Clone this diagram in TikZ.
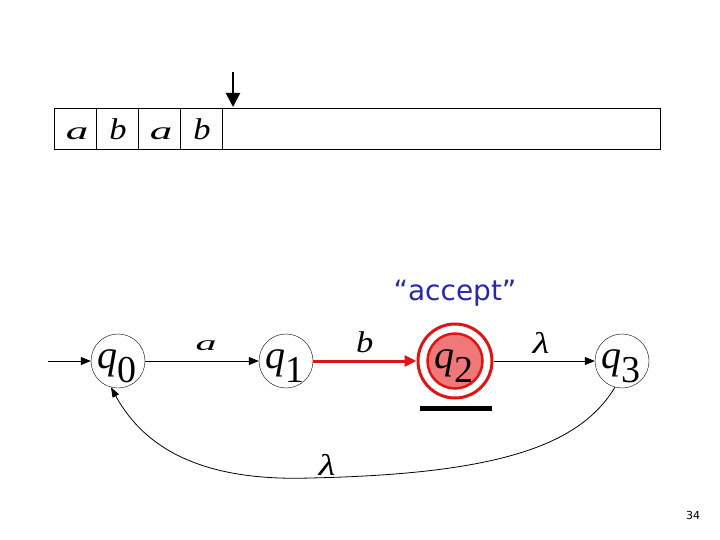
\documentclass[tikz,border=0pt]{standalone}
\usepackage{fontspec}
\usepackage{graphicx}
\usetikzlibrary{arrows.meta}
\newfontfamily\accfont{DejaVu Sans}
\newfontfamily\tmfont{Liberation Serif}
\newcommand{\stq}[1]{\tmfont\fontsize{40}{40}\selectfont\textit{q}\raisebox{-14pt}{\fontsize{38}{38}\selectfont #1}}
\newcommand{\wl}[2]{\scalebox{#1}[1]{\tmfont\itshape #2}}
\definecolor{accblue}{RGB}{40,40,170}
\definecolor{accred}{RGB}{225,20,20}
\definecolor{fillred}{RGB}{240,120,120}
\begin{document}
\begin{tikzpicture}[x=1pt,y=-1pt,
  state/.style={circle,draw,thin,minimum size=54pt,inner sep=0pt},
  cell/.style={draw,thin,minimum width=42pt,minimum height=41pt,inner sep=0pt,anchor=north west},
  atext/.style={anchor=base,inner sep=0pt,font=\fontsize{25}{25}\selectfont},
  btext/.style={anchor=base,inner sep=0pt,font=\fontsize{30}{30}\selectfont},
  lab/.style={anchor=base,inner sep=0pt,font=\fontsize{30}{30}\selectfont},
  qtext/.style={anchor=base west,inner sep=0pt},
  tr/.style={-{Triangle[length=10pt,width=8pt]},thick}]
\useasboundingbox (0,0) rectangle (720,540);
% tape
\node[cell] (c1) at (54,108) {};
\node[cell] (c2) at (96,108) {};
\node[cell] (c3) at (138,108) {};
\node[cell] (c4) at (180,108) {};
\node[draw,thin,minimum width=438pt,minimum height=41pt,inner sep=0pt,anchor=north west] (rest) at (222,108) {};
\node[atext] (l1) at (77,140) {\wl{1.8}{a}};
\node[btext] (l2) at (118,140) {\wl{1.15}{b}};
\node[atext] (l3) at (161,140) {\wl{1.8}{a}};
\node[btext] (l4) at (202,140) {\wl{1.15}{b}};
\coordinate (headtop) at (233,72);
\draw[-{Triangle[length=14pt,width=14pt]},line width=2.2pt] (headtop) -- (233,107);
% states
\node[state] (q0) at (118,361) {};
\node[state] (q1) at (286,361) {};
\node[circle,draw=accred,line width=3pt,minimum size=74pt,inner sep=0pt] (q2o) at (455,361) {};
\node[state,draw=accred,line width=2.5pt,fill=fillred,minimum size=55pt] (q2) at (455,361) {};
\node[state] (q3) at (622,361) {};
\node[qtext] (t0) at (97,368) {\stq{0}};
\node[qtext] (t1) at (265,368) {\stq{1}};
\node[qtext] (t2) at (434,368) {\stq{2}};
\node[qtext] (t3) at (601,368) {\stq{3}};
\coordinate (start) at (48,361);
\draw[tr] (start) -- (q0);
\draw[tr] (q0) -- node[lab,yshift=11pt,xshift=4pt,font=\fontsize{21}{21}\selectfont] {\wl{2.0}{a}} (q1);
\draw[-{Triangle[length=12pt,width=11pt]},line width=3pt,accred] (q1) -- node[lab,yshift=9pt,text=black] {\wl{1.15}{b}} (q2o);
\draw[tr] (q2o) -- node[lab,yshift=8pt,xshift=-3pt] {\wl{1.3}{λ}} (q3);
\coordinate (bot) at (310,478);
\draw[-{Triangle[length=10pt,width=7pt]},thick] (q3.-105) .. controls (580,445) and (500,474) .. (bot) .. controls (190,482) and (140,440) .. (q0.-105);
\node[lab] (lam2) at (327,475) {\wl{1.3}{λ}};
\node[font=\accfont\fontsize{28}{28}\selectfont,text=accblue] (acc) at (455,293) {“accept”};
\node[fill=black,minimum width=72pt,minimum height=5pt,inner sep=0pt] (bar) at (456,408) {};
\node[font=\accfont\fontsize{11}{11}\selectfont] (pg) at (693,515) {34};
\end{tikzpicture}
\end{document}
